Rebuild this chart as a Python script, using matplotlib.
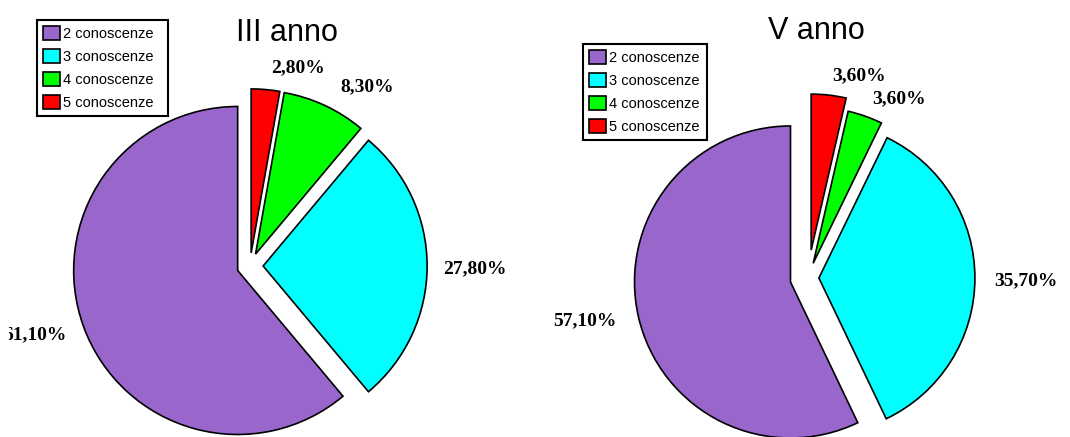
import matplotlib
matplotlib.use('Agg')
import matplotlib.pyplot as plt
from matplotlib.transforms import Bbox, TransformedBbox

# dati: quota di studenti per numero di conoscenze
categorie = ['2 conoscenze', '3 conoscenze', '4 conoscenze', '5 conoscenze']
colori = ['#9966CC', '#00FFFF', '#00FF00', '#FF0000']

titolo_iii = 'III anno'
valori_iii = [61.10, 27.80, 8.30, 2.80]

titolo_v = 'V anno'
valori_v = [57.10, 35.70, 3.60, 3.60]

W, H = 1070, 437

fig = plt.figure(figsize=(W / 100, H / 100), dpi=100)


def etichetta(v):
    return f'{v:.2f}%'.replace('.', ',')


def disegna_torta(valori, titolo, centro, raggio, esplodi, pos_titolo, pos_etichette,
                  box_legenda, bordo_sx=0):
    # un asse che copre tutta la figura, unita' in pixel (y verso l'alto)
    ax = fig.add_axes([0, 0, 1, 1])
    cx, cy = centro
    # explode di matplotlib e' in unita' dati: lo scalo sul raggio
    wedges, _ = ax.pie(valori, colors=colori, startangle=90, counterclock=True,
                       explode=[e * raggio for e in esplodi],
                       center=(cx, H - cy), radius=raggio,
                       wedgeprops=dict(edgecolor='black', linewidth=1.2))
    ax.set_xlim(0, W)
    ax.set_ylim(0, H)
    ax.set_aspect('equal')
    ax.axis('off')

    ax.text(pos_titolo[0], H - pos_titolo[1], titolo, ha='center', va='center',
            fontsize=22, family='Liberation Sans')

    # le etichette vengono tagliate al bordo sinistro dell'area del grafico
    area = TransformedBbox(Bbox([[bordo_sx, 0], [W, H]]), ax.transData)
    for v, (x, y) in zip(valori, pos_etichette):
        t = ax.text(x, H - y, etichetta(v), ha='center', va='center',
                    fontsize=14, fontweight='bold', family='Liberation Serif')
        t.set_clip_box(area)
        t.set_clip_on(True)

    lx, ly, lw, lh = box_legenda
    leg = ax.legend(wedges, categorie, loc='upper left', mode='expand',
                    bbox_to_anchor=(lx / W, 1 - (ly + lh) / H, lw / W, lh / H),
                    bbox_transform=fig.transFigure, borderaxespad=0,
                    fancybox=False, frameon=True, framealpha=1,
                    prop=dict(family='Liberation Sans', size=10.5),
                    handlelength=1.15, handleheight=1.1, handletextpad=0.2,
                    labelspacing=0.55, borderpad=0.4)
    leg.get_frame().set_edgecolor('black')
    leg.get_frame().set_linewidth(1.5)
    return ax


disegna_torta(valori_iii, titolo_iii, centro=(250, 266), raggio=164,
              esplodi=[0.08, 0.08, 0.08, 0.08],
              pos_titolo=(287, 33),
              pos_etichette=[(35, 335), (475, 269), (367, 87), (298, 68)],
              box_legenda=(37, 20, 131, 97), bordo_sx=9)

disegna_torta(valori_v, titolo_v, centro=(808, 278), raggio=156,
              esplodi=[0.115, 0.07, 0.10, 0.18],
              pos_titolo=(816, 31),
              pos_etichette=[(585, 321), (1026, 281), (899, 99), (859, 76)],
              box_legenda=(583, 44, 124, 93))

fig.savefig('out.png', dpi=100, facecolor='white')
